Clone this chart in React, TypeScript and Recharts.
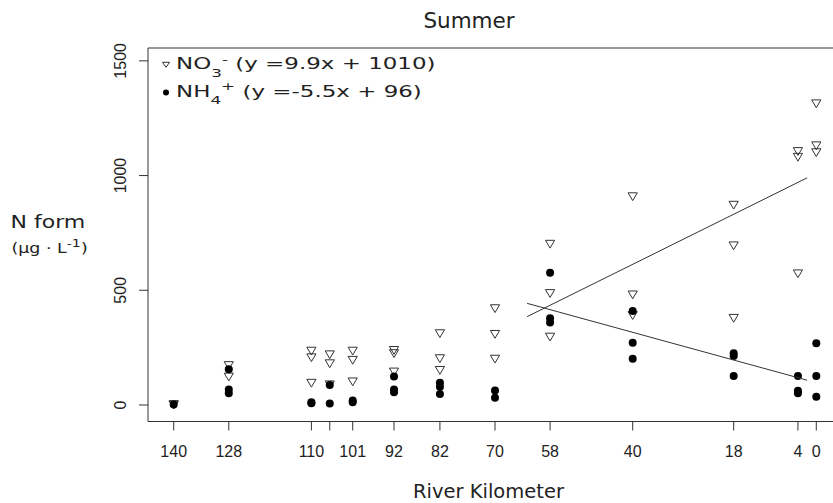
import React from 'react';
import { ScatterChart, Scatter, XAxis, YAxis, ReferenceLine } from 'recharts';

// river km of each sample, and the measured value (ug/L)
const no3Km = [140, 140, 128, 128, 110, 110, 110, 106, 106, 106, 101, 101, 101, 92, 92, 92, 82, 82, 82, 70, 70, 70, 58, 58, 58, 40, 40, 40, 18, 18, 18, 4, 4, 4, 0, 0, 0];
const no3Val = [4, 2, 174, 124, 237, 208, 97, 221, 182, 90, 237, 197, 103, 240, 226, 146, 313, 204, 153, 422, 310, 202, 703, 488, 298, 910, 482, 392, 873, 696, 380, 1107, 1082, 574, 1315, 1132, 1102];

const nh4Km = [140, 128, 128, 128, 110, 110, 106, 106, 101, 101, 92, 92, 92, 82, 82, 82, 70, 70, 58, 58, 58, 40, 40, 40, 18, 18, 18, 4, 4, 4, 0, 0, 0];
const nh4Val = [2, 156, 68, 51, 12, 8, 87, 7, 20, 12, 124, 68, 55, 97, 80, 48, 63, 32, 576, 378, 359, 410, 271, 202, 225, 213, 126, 126, 62, 51, 269, 126, 36];

// fitted lines, end points
const trendKm = [63, 2];
const no3Trend = [385, 990];
const nh4Trend = [443, 108];

const xTicks = [140, 128, 110, 106, 101, 92, 82, 70, 58, 40, 18, 4, 0];
const xHidden = [106];
const yTicks = [0, 500, 1000, 1500];
const xDomain = [-5.6, 145.6];
const yDomain = [-72, 1556];

const zip = (km: number[], v: number[]) => km.map((k, i) => ({ km: k, v: v[i] }));

const no3Data = zip(no3Km, no3Val);
const nh4Data = zip(nh4Km, nh4Val);
const no3Line = zip(trendKm, no3Trend);
const nh4Line = zip(trendKm, nh4Trend);

const ink = '#222';
const titleFont = '"DejaVu Sans", Verdana, sans-serif';
const tickFont = '"Liberation Sans", Arial, sans-serif';

const Triangle = (p: any) => (
  <path
    d={`M${p.cx - 4.6},${p.cy - 3.4}L${p.cx + 4.6},${p.cy - 3.4}L${p.cx},${p.cy + 4.4}Z`}
    fill="none"
    stroke="#333"
    strokeWidth={1}
  />
);

const Dot = (p: any) => <circle cx={p.cx} cy={p.cy} r={4} fill="#000" />;

const NoMark = () => <g />;

const XTick = (p: any) => {
  const v = p.payload.value;
  if (xHidden.includes(v)) return <g />;
  return (
    <text x={p.x} y={p.y + 24} textAnchor="middle" fontFamily={tickFont} fontSize={16} fill={ink}>
      {v}
    </text>
  );
};

const YTick = (p: any) => {
  const bx = 126.5;
  return (
    <text
      x={bx}
      y={p.y}
      transform={`rotate(-90 ${bx} ${p.y})`}
      textAnchor="middle"
      fontFamily={tickFont}
      fontSize={16}
      fill={ink}
    >
      {p.payload.value}
    </text>
  );
};

export default function App() {
  return (
    <div style={{ position: 'fixed', left: 0, top: 0, width: 833, height: 503, overflow: 'hidden', background: '#fff' }}>
      <ScatterChart width={860} height={503} margin={{ top: 48, right: 18, bottom: 0, left: 0 }}>
        <XAxis
          type="number"
          dataKey="km"
          domain={xDomain}
          reversed
          ticks={xTicks}
          interval={0}
          height={81.5}
          tickSize={9}
          tick={<XTick />}
          axisLine={{ stroke: '#333' }}
          tickLine={{ stroke: '#333' }}
        />
        <YAxis
          type="number"
          dataKey="v"
          domain={yDomain}
          ticks={yTicks}
          interval={0}
          width={148}
          tickSize={9}
          tick={<YTick />}
          axisLine={{ stroke: '#333' }}
          tickLine={{ stroke: '#333' }}
        />
        <ReferenceLine y={yDomain[1]} stroke="#333" />
        <Scatter data={no3Data} shape={<Triangle />} isAnimationActive={false} />
        <Scatter data={nh4Data} shape={<Dot />} isAnimationActive={false} />
        <Scatter data={no3Line} line={{ stroke: '#333', strokeWidth: 1 }} shape={<NoMark />} isAnimationActive={false} />
        <Scatter data={nh4Line} line={{ stroke: '#333', strokeWidth: 1 }} shape={<NoMark />} isAnimationActive={false} />
      </ScatterChart>
      <svg width={833} height={503} style={{ position: 'absolute', left: 0, top: 0, pointerEvents: 'none' }}>
        <text x={469} y={28} textAnchor="middle" fontFamily={titleFont} fontSize={21.5} fill={ink}>Summer</text>
        <text x={488.5} y={498} textAnchor="middle" fontFamily={titleFont} fontSize={19.5} fill={ink}>River Kilometer</text>

        <g transform="translate(10.5 228.3) scale(1.19 1)">
          <text x={0} y={0} fontFamily={titleFont} fontSize={18.5} fill={ink}>N form</text>
        </g>
        <g transform="translate(11.5 252.7) scale(1.29 1)">
          <text x={0} y={0} fontFamily={titleFont} fontSize={13.5} fill={ink}>
            (µg · L<tspan fontSize={11} dy={-5.4}>-1</tspan><tspan dy={5.4}>)</tspan>
          </text>
        </g>

        <path d="M162.5,62.3L169.5,62.3L166,67.3Z" fill="none" stroke="#333" strokeWidth={1} />
        <g transform="translate(176 69) scale(1.53 1)">
          <text x={0} y={0} fontFamily={titleFont} fontSize={15} fill={ink}>
            NO<tspan fontSize={11} dy={7.7}>3</tspan><tspan fontSize={11} dy={-13.7}>-</tspan>
            <tspan dy={6}> (y =9.9x + 1010)</tspan>
          </text>
        </g>
        <circle cx={166} cy={92.5} r={3} fill="#000" />
        <g transform="translate(176 96.7) scale(1.53 1)">
          <text x={0} y={0} fontFamily={titleFont} fontSize={15} fill={ink}>
            NH<tspan fontSize={11} dy={7.3}>4</tspan><tspan fontSize={11} dy={-14}>+</tspan>
            <tspan dy={6.7}> (y =-5.5x + 96)</tspan>
          </text>
        </g>
      </svg>
    </div>
  );
}
